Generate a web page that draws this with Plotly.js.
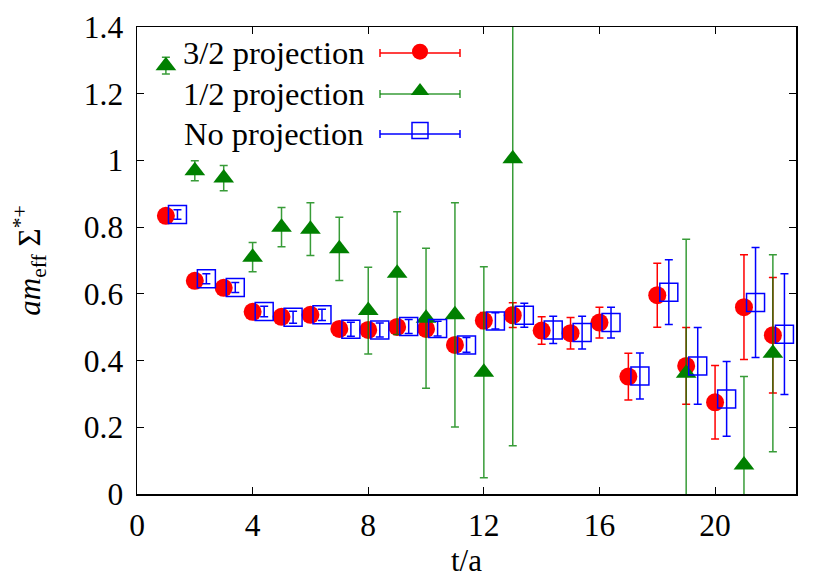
<!DOCTYPE html>
<html>
<head>
<meta charset="utf-8">
<script src="https://cdn.plot.ly/plotly-3.0.1.min.js"></script>
<style>html,body{margin:0;padding:0;background:#fff;}#chart{width:829px;height:585px;}</style>
</head>
<body>
<div id="chart"></div>
<script>
// Time slices
const tSlices = [1,2,3,4,5,6,7,8,9,10,11,12,13,14,15,16,17,18,19,20,21,22];

// 3/2 projection
const proj32Values = [0.834,0.639,0.618,0.546,0.531,0.537,0.495,0.492,0.501,0.495,0.447,0.520,0.536,0.490,0.482,0.514,0.352,0.596,0.384,0.275,0.560,0.476];
const proj32Errors = [0.012,0.013,0.013,0.014,0.015,0.015,0.018,0.018,0.019,0.020,0.021,0.024,0.037,0.041,0.047,0.046,0.070,0.096,0.115,0.110,0.157,0.173];

// 1/2 projection (only some slices)
const proj12Slices = [1,2,3,4,5,6,7,8,9,10,11,12,13,19,21,22];
const proj12Values = [1.284,0.969,0.947,0.710,0.800,0.794,0.735,0.550,0.662,0.527,0.537,0.365,1.005,0.362,0.087,0.422];
const proj12Errors = [0.025,0.030,0.038,0.044,0.059,0.079,0.095,0.130,0.184,0.210,0.336,0.316,0.860,0.402,0.265,0.295];

// No projection (plotted shifted by +0.4 in t)
const noProjValues = [0.838,0.645,0.619,0.547,0.530,0.537,0.494,0.492,0.502,0.496,0.447,0.519,0.536,0.492,0.484,0.514,0.354,0.605,0.384,0.285,0.574,0.479];
const noProjErrors = [0.014,0.015,0.015,0.016,0.018,0.017,0.021,0.021,0.021,0.022,0.022,0.024,0.036,0.041,0.049,0.046,0.069,0.097,0.115,0.112,0.165,0.181];

const seriesNames = ['3/2 projection', '1/2 projection', 'No projection'];
const xTickVals = [0,4,8,12,16,20];
const yTickVals = [0,0.2,0.4,0.6,0.8,1,1.2,1.4];

const noProjShift = 0.4;
const FONT = '"Liberation Serif", "Times New Roman", Times, serif';
const RED = '#ff0000', GREEN = '#008000', GREEN_BAR = 'rgba(0,128,0,0.78)', BLUE = '#0000ff';

// plot-area geometry (pixels) used for legend decorations
const W = 829, H = 585, M = {l: 137, r: 33, t: 27, b: 91};
const pw = W - M.l - M.r, ph = H - M.t - M.b;
const px2paperX = p => (p - M.l) / pw;
const px2paperY = p => (H - M.b - p) / ph;

const traces = [
  {
    x: tSlices, y: proj32Values, name: ' ', type: 'scatter', mode: 'markers',
    marker: {symbol: 'circle', size: 18, color: RED},
    error_y: {type: 'data', array: proj32Errors, visible: true, color: RED, thickness: 1.5, width: 4}
  },
  {
    x: proj12Slices, y: proj12Values, name: '  ', type: 'scatter', mode: 'markers',
    marker: {symbol: 'triangle-up', size: 18, color: GREEN},
    error_y: {type: 'data', array: proj12Errors, visible: true, color: GREEN_BAR, thickness: 1.5, width: 4}
  },
  {
    x: tSlices.map(t => t + noProjShift), y: noProjValues, name: '   ', type: 'scatter', mode: 'markers',
    marker: {symbol: 'square-open', size: 18, color: BLUE, line: {width: 1.5, color: BLUE}},
    error_y: {type: 'data', array: noProjErrors, visible: true, color: BLUE, thickness: 1.5, width: 4}
  }
];

// gnuplot-style key: label text right-aligned, sample (error bar + symbol) on the right
const keyRowsPx = [53, 94, 134];
const keyColors = [RED, GREEN_BAR, BLUE];
const keyTextRight = 366, keyLineL = 380, keyLineR = 460, capHalf = 4;
const annotations = seriesNames.map((nm, i) => ({
  xref: 'paper', yref: 'paper', x: px2paperX(keyTextRight), y: px2paperY(keyRowsPx[i]),
  xanchor: 'right', yanchor: 'middle', text: nm, showarrow: false,
  font: {family: FONT, size: 32.5, color: '#000'}
}));
const shapes = [];
keyRowsPx.forEach((py, i) => {
  const c = keyColors[i];
  shapes.push({type: 'line', xref: 'paper', yref: 'paper', x0: px2paperX(keyLineL), x1: px2paperX(keyLineR), y0: px2paperY(py), y1: px2paperY(py), line: {color: c, width: 1.5}});
  [keyLineL, keyLineR].forEach(xx => shapes.push({type: 'line', xref: 'paper', yref: 'paper', x0: px2paperX(xx), x1: px2paperX(xx), y0: px2paperY(py - capHalf), y1: px2paperY(py + capHalf), line: {color: c, width: 1.5}}));
});

const axisCommon = {
  showline: true, linecolor: '#000', linewidth: 1.5, mirror: 'all',
  ticks: 'inside', ticklen: 7, tickwidth: 1, tickcolor: '#000',
  showgrid: false, zeroline: false,
  tickfont: {family: FONT, size: 31.5, color: '#000'}
};

const layout = {
  width: W, height: H,
  margin: M,
  paper_bgcolor: '#fff', plot_bgcolor: '#fff',
  font: {family: FONT, size: 31, color: '#000'},
  showlegend: true,
  legend: {x: px2paperX(400), y: 1.0, xanchor: 'left', yanchor: 'top', bgcolor: 'rgba(0,0,0,0)',
           font: {family: FONT, size: 28, color: '#000'}, tracegroupgap: 0},
  annotations: annotations,
  shapes: shapes,
  xaxis: Object.assign({}, axisCommon, {
    range: [0, 22.8], tickvals: xTickVals, ticktext: xTickVals.map(String), ticklabelstandoff: 3,
    title: {text: 't/a', font: {family: FONT, size: 31, color: '#000'}, standoff: 0}
  }),
  yaxis: Object.assign({}, axisCommon, {
    range: [0, 1.4], tickvals: yTickVals, ticktext: yTickVals.map(String), ticklabelstandoff: 6,
    title: {text: '<i>am</i><sub>eff</sub> Σ<sup>*+</sup>', font: {family: FONT, size: 31, color: '#000'}, standoff: 34}
  })
};

Plotly.newPlot('chart', traces, layout, {staticPlot: true, displayModeBar: false});
</script>
</body>
</html>
